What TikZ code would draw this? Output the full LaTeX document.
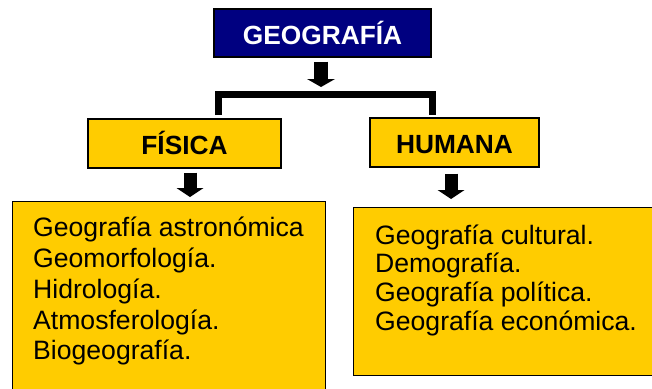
\documentclass[tikz,border=0pt]{standalone}
\usepackage{fontspec}
\setmainfont{Liberation Sans}
\usetikzlibrary{arrows.meta,calc}
\definecolor{geoyellow}{HTML}{FFCC00}
\definecolor{geonavy}{HTML}{000080}
\begin{document}
\begin{tikzpicture}[x=1pt,y=-1pt,
  hdr/.style={draw=black, line width=1.2pt, inner sep=0pt, text height=22pt, text depth=0pt, font=\fontsize{26.3}{30}\selectfont\bfseries},
  ybox/.style={draw=black, line width=1.2pt, fill=geoyellow, inner sep=0pt, anchor=north west},
  item/.style={anchor=base west, inner sep=0pt, font=\fontsize{26.6}{30}\selectfont},
  blockarr/.style={line width=13pt, -{Triangle[width=27pt,length=9pt,line width=0pt]}},
  bracket/.style={line width=7pt, line join=miter}]
\useasboundingbox (0,0) rectangle (652,388);
\clip (0,0) rectangle (652,388);
% header boxes
\node[hdr, fill=geonavy, text=white, minimum width=217pt, minimum height=48pt] (geo) at (322.5,33) {GEOGRAFÍA};
\node[hdr, fill=geoyellow, minimum width=193pt, minimum height=49pt] (fis) at (184.5,143.5) {FÍSICA};
\node[hdr, fill=geoyellow, minimum width=169pt, minimum height=49pt] (hum) at (454.5,142.5) {HUMANA};
% content boxes
\node[ybox, minimum width=313pt, minimum height=230pt] (fisbox) at (12,201) {};
\node[ybox, minimum width=310pt, minimum height=168pt] (humbox) at (353,207) {};
% bracket
\coordinate (bl) at (218.5,115);
\coordinate (br) at (432.5,115);
\coordinate (bartop) at (321,91);
\coordinate (barmid) at (321,94.5);
\draw[bracket] (bl) -- (bl |- barmid) -- (br |- barmid) -- (br);
% arrows
\draw[blockarr, line width=14pt, -{Triangle[width=28pt,length=8pt,line width=0pt]}, shorten <=4pt, shorten >=4pt] (geo.south -| bartop) -- (bartop);
\coordinate (fa) at ($(fis.south)+(5.5,0)$);
\draw[blockarr, shorten <=4pt, shorten >=4pt] (fa) -- (fa |- fisbox.north);
\coordinate (ha) at ($(hum.south)+(-3.5,0)$);
\draw[blockarr, shorten <=6pt, shorten >=8pt] (ha) -- (ha |- humbox.north);
% items
\foreach \t [count=\i from 0] in {Geografía astronómica, Geomorfología., Hidrología., Atmosferología., Biogeografía.}
  \node[item] (fl\i) at ($(fisbox.north west)+(21,35.7+30.8*\i)$) {\t};
\foreach \t [count=\i from 0] in {Geografía cultural., Demografía., Geografía política., Geografía económica.}
  \node[item] (hl\i) at ($(humbox.north west)+(22,37+28.7*\i)$) {\t};
\end{tikzpicture}
\end{document}
